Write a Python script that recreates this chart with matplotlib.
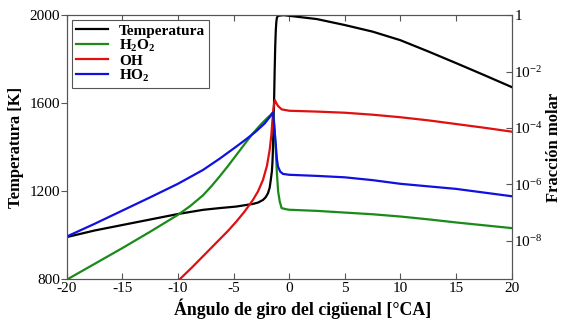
import matplotlib
matplotlib.use("Agg")
import matplotlib.pyplot as plt
import numpy as np

plt.rcParams['font.family'] = ['Liberation Serif', 'DejaVu Serif']
plt.rcParams['mathtext.fontset'] = 'custom'
plt.rcParams['mathtext.rm'] = 'Liberation Serif'
plt.rcParams['mathtext.bf'] = 'Liberation Serif:bold'
plt.rcParams['mathtext.it'] = 'Liberation Serif:italic'

# Temperature [K]
x_temp = [-20, -17.5, -15, -12.5, -10, -7.75, -6.25, -4.75, -3.25, -2.8, -2.35, -2.1, -1.9, -1.75, -1.65, -1.55,
          -1.5, -1.45, -1.4, -1.35, -1.3, -1.25, -1.2, -1.15, -1.1, -1.0, -0.5, 0, 2.5, 5, 7.5, 10, 12.5, 15, 17.5, 20]
temp = [990, 1020, 1045, 1070, 1095, 1114, 1122, 1129, 1141, 1147, 1159, 1172, 1190, 1215, 1250, 1290,
        1330, 1400, 1500, 1620, 1750, 1860, 1930, 1970, 1988, 1997, 2000, 1997, 1982, 1955, 1925, 1886, 1835, 1782,
        1728, 1673]

# H2O2 mole fraction (log10)
x_h2o2 = [-20, -17.5, -15, -12.5, -10, -8.9, -7.75, -7.0, -6.25, -5.5, -4.75, -4.0, -3.25, -2.6, -2.0, -1.7, -1.5,
          -1.42, -1.3, -1.2, -1.1, -0.99, -0.85, -0.68, -0.3, 0, 2.5, 5, 7.5, 10, 12.5, 15, 17.5, 20]
h2o2 = [-9.38, -8.82, -8.26, -7.68, -7.08, -6.77, -6.39, -6.07, -5.72, -5.35, -4.96, -4.57, -4.19, -3.9, -3.66, -3.55,
        -3.47, -3.43, -4.1, -4.8, -5.6, -6.25, -6.6, -6.84, -6.88, -6.90, -6.94, -7.00, -7.06, -7.14, -7.24, -7.35,
        -7.45, -7.55]

# OH mole fraction (log10)
x_oh = [-9.8, -8.75, -7.75, -7.0, -6.25, -5.5, -4.75, -4.0, -3.25, -2.8, -2.35, -2.0, -1.75, -1.6, -1.5, -1.42,
        -1.35, -1.28, -1.15, -1.0, -0.68, 0, 2.5, 5, 7.5, 10, 12.5, 15, 17.5, 20]
oh = [-9.35, -8.95, -8.55, -8.25, -7.95, -7.65, -7.32, -6.96, -6.55, -6.25, -5.84, -5.35, -4.78, -4.25, -3.72, -3.35,
      -3.15, -3.01, -3.12, -3.22, -3.34, -3.39, -3.42, -3.46, -3.53, -3.62, -3.73, -3.86, -3.99, -4.13]

# HO2 mole fraction (log10)
x_ho2 = [-20, -17.5, -15, -12.5, -10, -7.75, -6.25, -4.75, -3.9, -3.0, -2.2, -1.6, -1.45, -1.35, -1.2, -1.1, -1.0,
         -0.8, -0.55, 0, 2.5, 5, 7.5, 10, 12.5, 15, 17.5, 20]
ho2 = [-7.85, -7.40, -6.93, -6.46, -5.98, -5.49, -5.09, -4.66, -4.41, -4.13, -3.84, -3.54, -3.45, -3.9, -4.6, -5.1,
       -5.37, -5.55, -5.63, -5.66, -5.70, -5.75, -5.85, -5.98, -6.07, -6.16, -6.29, -6.42]

labels = ['Temperatura', r'$\mathbf{H_2O_2}$', r'$\mathbf{OH}$', r'$\mathbf{HO_2}$']
colors = ['#000000', '#1a8a1a', '#e01010', '#1010e0']

xticks = [-20, -15, -10, -5, 0, 5, 10, 15, 20]
yticks_left = [800, 1200, 1600, 2000]
yticks_right_exp = [0, -2, -4, -6, -8]
yticks_right_labels = ['1', r'$10^{-2}$', r'$10^{-4}$', r'$10^{-6}$', r'$10^{-8}$']

fig = plt.figure(figsize=(5.64, 3.22), dpi=100)
ax = fig.add_axes([0.1183, 0.134, 0.7887, 0.819])
ax2 = ax.twinx()

spine_col = '#555555'
lt, = ax.plot(x_temp, temp, color=colors[0], lw=1.6, zorder=3)
ax.set_xlim(-20, 20)
ax.set_ylim(800, 2000)
ax.set_xticks(xticks)
ax.set_xticklabels([str(t) for t in xticks])
ax.set_yticks(yticks_left)
ax.tick_params(axis='y', direction='out', length=4, width=0.8, color=spine_col, labelsize=11, pad=1)
ax.tick_params(axis='x', direction='in', length=4, width=0.8, color=spine_col, labelsize=11, top=True, pad=2)

h = []
for xs, ys, c in [(x_h2o2, h2o2, colors[1]), (x_oh, oh, colors[2]), (x_ho2, ho2, colors[3])]:
    l, = ax2.plot(xs, 10.0 ** np.array(ys), color=c, lw=1.6)
    h.append(l)
ax2.set_yscale('log')
ax2.set_ylim(10 ** -9.35, 1)
ax2.set_yticks([10.0 ** e for e in yticks_right_exp])
ax2.set_yticklabels(yticks_right_labels)
ax2.yaxis.set_minor_locator(matplotlib.ticker.NullLocator())
ax2.tick_params(axis='y', direction='in', length=4, width=0.8, color=spine_col, labelsize=11, pad=2)

for a in (ax, ax2):
    for s in a.spines.values():
        s.set_color(spine_col)
        s.set_linewidth(0.8)

ax.set_xlabel('Ángulo de giro del cigüenal [°CA]', fontsize=12.8, fontweight='bold', labelpad=2)
ax.xaxis.set_label_coords(0.531, -0.075)
ax.set_ylabel('Temperatura [K]', fontsize=12, fontweight='bold', labelpad=4)
ax2.set_ylabel('Fracción molar', fontsize=12, fontweight='bold', labelpad=2)

leg = ax2.legend([lt] + h, labels, loc='upper left', bbox_to_anchor=(0.012, 0.981), borderaxespad=0,
                 prop={'weight': 'bold', 'size': 11}, fancybox=False, edgecolor='#555555', framealpha=1,
                 handlelength=2.1, handletextpad=0.7, labelspacing=0.0, borderpad=0.25)
leg.get_frame().set_linewidth(0.8)

fig.savefig('out.png', dpi=100)
